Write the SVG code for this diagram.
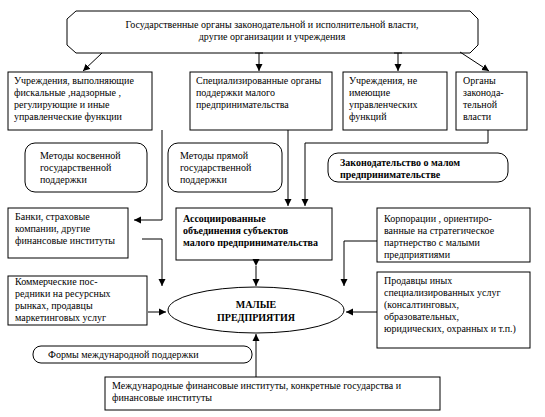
<svg xmlns="http://www.w3.org/2000/svg" width="545" height="417" viewBox="0 0 545 417">
<defs>
<style>
.b{fill:#fff;stroke:#000;stroke-width:1}
.t{font-family:"Liberation Serif","Times New Roman",serif;font-size:10px;fill:#000}
.tb{font-family:"Liberation Serif","Times New Roman",serif;font-size:10px;font-weight:bold;fill:#000}
.c{fill:none;stroke:#000;stroke-width:1}
</style>
<marker id="ah" markerWidth="8" markerHeight="8" refX="7" refY="4" orient="auto" markerUnits="userSpaceOnUse">
<path d="M0,0.5 L7,4 L0,7.5 Z" fill="#000"/>
</marker>
</defs>
<rect width="545" height="417" fill="#fff"/>

<g id="top">
<polygon class="b" points="76,11 470,11 478,19 478,45 470,53 76,53 67,45 67,19"/>
<text class="t" x="272" y="28" text-anchor="middle">Государственные органы законодательной и исполнительной власти,</text>
<text class="t" x="272" y="40" text-anchor="middle">другие организации и учреждения</text>
</g>

<g id="box1">
<rect class="b" x="8" y="72" width="144" height="58"/>
<text class="t" x="14" y="84"> Учреждения, выполняющие</text>
<text class="t" x="14" y="96">фискальные ,надзорные ,</text>
<text class="t" x="14" y="108">регулирующие и иные</text>
<text class="t" x="14" y="120">управленческие функции</text>
</g>

<g id="box2">
<rect class="b" x="190" y="72" width="142" height="58"/>
<text class="t" x="196" y="84">Специализированные органы</text>
<text class="t" x="196" y="96">поддержки малого</text>
<text class="t" x="196" y="108">предпринимательства</text>
</g>

<g id="box3">
<rect class="b" x="343" y="72" width="104" height="58"/>
<text class="t" x="349" y="84"> Учреждения, не</text>
<text class="t" x="349" y="96">имеющие</text>
<text class="t" x="349" y="108">управленческих</text>
<text class="t" x="349" y="120">функций</text>
</g>

<g id="box4">
<rect class="b" x="456" y="72" width="71" height="58"/>
<text class="t" x="463" y="84">Органы</text>
<text class="t" x="463" y="96">законода-</text>
<text class="t" x="463" y="108">тельной</text>
<text class="t" x="463" y="120">власти</text>
</g>

<g id="indirect">
<rect class="b" x="25" y="143" width="122" height="49" rx="10" ry="10"/>
<text class="t" x="40" y="159">Методы косвенной</text>
<text class="t" x="40" y="171">государственной</text>
<text class="t" x="40" y="183">поддержки</text>
</g>

<g id="direct">
<rect class="b" x="168" y="143" width="114" height="49" rx="10" ry="10"/>
<text class="t" x="180" y="159">Методы прямой</text>
<text class="t" x="180" y="171">государственной</text>
<text class="t" x="180" y="183">поддержки</text>
</g>

<g id="law">
<rect class="b" x="328" y="153" width="180" height="29" rx="10" ry="10"/>
<text class="tb" x="340" y="166">Законодательство о малом</text>
<text class="tb" x="340" y="178">предпринимательстве</text>
</g>

<g id="banks">
<rect class="b" x="8" y="208" width="120" height="50"/>
<text class="t" x="15" y="220">Банки, страховые</text>
<text class="t" x="15" y="232">компании, другие</text>
<text class="t" x="15" y="244">финансовые институты</text>
</g>

<g id="assoc">
<rect class="b" x="176" y="208" width="156" height="52"/>
<text class="tb" x="183" y="222">Ассоциированные</text>
<text class="tb" x="183" y="234">объединения субъектов</text>
<text class="tb" x="183" y="246">малого предпринимательства</text>
</g>

<g id="corp">
<rect class="b" x="377" y="208" width="153" height="54"/>
<text class="t" x="384" y="222">Корпорации , ориентиро-</text>
<text class="t" x="384" y="234">ванные на стратегическое</text>
<text class="t" x="384" y="246">партнерство с малыми</text>
<text class="t" x="384" y="258">предприятиями</text>
</g>

<g id="commerce">
<rect class="b" x="8" y="276" width="139" height="49"/>
<text class="t" x="15" y="285">Коммерческие пос-</text>
<text class="t" x="15" y="297">редники на ресурсных</text>
<text class="t" x="15" y="309">рынках, продавцы</text>
<text class="t" x="15" y="321">маркетинговых услуг</text>
</g>

<g id="small">
<ellipse class="b" cx="256" cy="310" rx="88" ry="23"/>
<text class="tb" x="256" y="308" text-anchor="middle">МАЛЫЕ</text>
<text class="tb" x="256" y="321" text-anchor="middle">ПРЕДПРИЯТИЯ</text>
</g>

<g id="sellers">
<rect class="b" x="377" y="272" width="153" height="76"/>
<text class="t" x="384" y="284">Продавцы иных</text>
<text class="t" x="384" y="296">специализированных услуг</text>
<text class="t" x="384" y="308">(консалтинговых,</text>
<text class="t" x="384" y="320">образовательных,</text>
<text class="t" x="384" y="332">юридических, охранных и т.п.)</text>
</g>

<g id="forms">
<rect class="b" x="33" y="346" width="219" height="17" rx="8" ry="8"/>
<text class="t" x="48" y="358">Формы международной поддержки</text>
</g>

<g id="intl">
<rect class="b" x="105" y="377" width="335" height="33"/>
<text class="t" x="112" y="389">Международные финансовые институты, конкретные государства и</text>
<text class="t" x="112" y="401">финансовые институты</text>
</g>

<g id="connectors">
<line class="c" x1="102" y1="53" x2="83" y2="71" marker-end="url(#ah)"/>
<line class="c" x1="259" y1="53" x2="259" y2="71" marker-end="url(#ah)"/>
<line class="c" x1="255" y1="53" x2="263" y2="53"/>
<line class="c" x1="398" y1="53" x2="398" y2="71" marker-end="url(#ah)"/>
<line class="c" x1="394" y1="53" x2="402" y2="53"/>
<line class="c" x1="460" y1="52" x2="489" y2="71" marker-end="url(#ah)"/>
<polyline class="c" points="162,130 162,220 134,220" marker-end="url(#ah)"/>
<polyline class="c" points="142,239 162,239 162,286" marker-end="url(#ah)"/>
<line class="c" x1="288" y1="130" x2="288" y2="206" marker-end="url(#ah)"/>
<polyline class="c" points="488,130 488,143 305,143 305,206" marker-end="url(#ah)"/>
<line class="c" x1="256" y1="266" x2="256" y2="286" marker-start="url(#ah)" marker-end="url(#ah)"/>
<line class="c" x1="148" y1="312" x2="166" y2="312" marker-end="url(#ah)"/>
<polyline class="c" points="377,241 344,241 344,286" marker-end="url(#ah)"/>
<line class="c" x1="377" y1="312" x2="346" y2="312" marker-end="url(#ah)"/>
<line class="c" x1="256" y1="377" x2="256" y2="334" marker-end="url(#ah)"/>
</g>
</svg>
